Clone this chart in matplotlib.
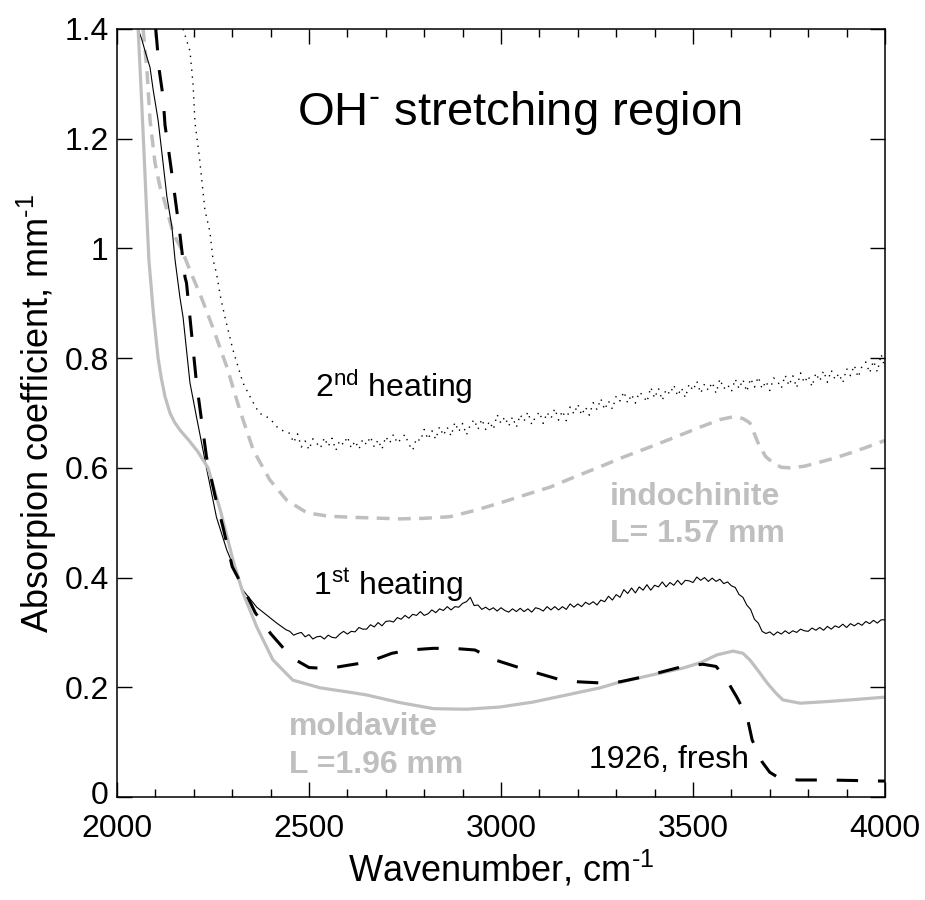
import matplotlib
matplotlib.use("Agg")
import matplotlib.pyplot as plt
from matplotlib.ticker import MultipleLocator
from matplotlib.transforms import ScaledTranslation

plt.rcParams['font.family'] = ['Liberation Sans', 'DejaVu Sans']
plt.rcParams['mathtext.fontset'] = 'custom'
plt.rcParams['mathtext.rm'] = 'Liberation Sans'
plt.rcParams['mathtext.it'] = 'Liberation Sans:italic'
plt.rcParams['mathtext.bf'] = 'Liberation Sans:bold'

GRAY = '#bfbfbf'

# moldavite, L = 1.96 mm (grey solid)
mold_wn = [2055, 2062, 2070, 2077, 2083, 2095, 2107, 2115, 2125, 2138, 2150, 2165, 2185, 2210, 2237,
           2270, 2302, 2328, 2364, 2406, 2458, 2529, 2615, 2650, 2737, 2825, 2910, 2997,
           3083, 3171, 3258, 3302, 3390, 3474, 3520, 3562, 3604, 3630, 3648, 3670, 3693,
           3715, 3734, 3779, 3850, 3909, 4000]
mold_ab = [1.40, 1.30, 1.18, 1.07, 0.98, 0.88, 0.80, 0.765, 0.73, 0.70, 0.683, 0.668, 0.652, 0.63, 0.60,
           0.52, 0.432, 0.372, 0.31, 0.25, 0.213, 0.199, 0.19, 0.186, 0.172, 0.161, 0.160, 0.164,
           0.173, 0.186, 0.199, 0.208, 0.222, 0.235, 0.245, 0.259, 0.266, 0.262, 0.250, 0.23, 0.208,
           0.19, 0.177, 0.171, 0.174, 0.177, 0.182]

# 1926, fresh (black dashed)
fresh_wn = [2101, 2110, 2120, 2125, 2138, 2151, 2164, 2177, 2181, 2207, 2233, 2255, 2276,
            2300, 2330, 2360, 2400, 2440, 2470, 2500, 2550, 2600, 2654, 2716, 2763, 2823,
            2875, 2932, 2984, 3042, 3094, 3148, 3200, 3258, 3310, 3370, 3419, 3479, 3526,
            3560, 3583, 3614, 3641, 3654, 3680, 3700, 3721, 3773, 3850, 4000]
fresh_ab = [1.40, 1.325, 1.276, 1.225, 1.161, 1.094, 1.025, 0.948, 0.937, 0.755, 0.62, 0.55, 0.492,
            0.42, 0.38, 0.336, 0.298, 0.266, 0.248, 0.236, 0.234, 0.24, 0.246, 0.262, 0.268, 0.271,
            0.271, 0.268, 0.25, 0.237, 0.226, 0.215, 0.21, 0.208, 0.21, 0.219, 0.228, 0.239, 0.242,
            0.238, 0.219, 0.182, 0.146, 0.104, 0.064, 0.045, 0.036, 0.031, 0.031, 0.029]

# indochinite, L = 1.57 mm (grey dashed)
indo_wn = [2068, 2078, 2086, 2099, 2112, 2125, 2146, 2169, 2190, 2220, 2250, 2286, 2320,
           2355, 2398, 2442, 2495, 2550, 2607, 2737, 2800, 2867, 2930, 2997, 3060, 3128,
           3190, 3258, 3320, 3388, 3450, 3518, 3570, 3604, 3630, 3648, 3674, 3690, 3709,
           3730, 3753, 3790, 3823, 3870, 3909, 3950, 4000]
indo_ab = [1.40, 1.325, 1.234, 1.156, 1.112, 1.083, 1.028, 0.997, 0.96, 0.91, 0.855, 0.784, 0.705,
           0.632, 0.578, 0.541, 0.518, 0.512, 0.51, 0.507, 0.508, 0.511, 0.522, 0.536, 0.55, 0.565,
           0.583, 0.602, 0.62, 0.638, 0.655, 0.674, 0.688, 0.693, 0.69, 0.682, 0.638, 0.62, 0.609,
           0.601, 0.60, 0.603, 0.609, 0.618, 0.627, 0.637, 0.65]

# shared sampling of the noisy spectra, 2450-4000 cm-1
grid_wn = [2450, 2460, 2470, 2480, 2490, 2500, 2510, 2520, 2530, 2540,
           2550, 2560, 2570, 2580, 2590, 2600, 2610, 2620, 2630, 2640,
           2650, 2660, 2670, 2680, 2690, 2700, 2710, 2720, 2730, 2740,
           2750, 2760, 2770, 2780, 2790, 2800, 2810, 2820, 2830, 2840,
           2850, 2860, 2870, 2880, 2890, 2900, 2910, 2920, 2930, 2940,
           2950, 2960, 2970, 2980, 2990, 3000, 3010, 3020, 3030, 3040,
           3050, 3060, 3070, 3080, 3090, 3100, 3110, 3120, 3130, 3140,
           3150, 3160, 3170, 3180, 3190, 3200, 3210, 3220, 3230, 3240,
           3250, 3260, 3270, 3280, 3290, 3300, 3310, 3320, 3330, 3340,
           3350, 3360, 3370, 3380, 3390, 3400, 3410, 3420, 3430, 3440,
           3450, 3460, 3470, 3480, 3490, 3500, 3510, 3520, 3530, 3540,
           3550, 3560, 3570, 3580, 3590, 3600, 3610, 3620, 3630, 3640,
           3650, 3660, 3670, 3680, 3690, 3700, 3710, 3720, 3730, 3740,
           3750, 3760, 3770, 3780, 3790, 3800, 3810, 3820, 3830, 3840,
           3850, 3860, 3870, 3880, 3890, 3900, 3910, 3920, 3930, 3940,
           3950, 3960, 3970, 3980, 3990, 4000]

# 1st heating (thin black, noisy)
heat1_edge_wn = [2055, 2065, 2073, 2086, 2094, 2107, 2117, 2130, 2143, 2151, 2164, 2172, 2190,
                 2207, 2233, 2259, 2286, 2310, 2328, 2364, 2416, 2440]
heat1_edge_ab = [1.40, 1.38, 1.36, 1.33, 1.29, 1.234, 1.174, 1.094, 1.039, 0.98, 0.91, 0.875, 0.755,
                 0.693, 0.60, 0.51, 0.45, 0.41, 0.377, 0.346, 0.317, 0.305]
heat1_grid_ab = [.302, .295, .298, .300, .292, .296, .288, .292, .293, .288,
                 .295, .291, .290, .297, .302, .297, .302, .301, .309, .306,
                 .306, .314, .310, .318, .312, .320, .321, .319, .327, .324,
                 .331, .326, .333, .331, .338, .331, .334, .341, .336, .343,
                 .340, .347, .341, .347, .346, .353, .356, .364, .349, .350,
                 .342, .346, .341, .345, .339, .345, .340, .337, .343, .338,
                 .344, .338, .343, .337, .345, .343, .339, .347, .341, .347,
                 .341, .347, .342, .352, .346, .352, .347, .355, .351, .356,
                 .350, .359, .356, .366, .359, .369, .364, .378, .371, .381,
                 .372, .383, .377, .387, .377, .386, .383, .392, .383, .391,
                 .386, .395, .387, .395, .394, .391, .401, .395, .400, .393,
                 .399, .393, .397, .389, .392, .385, .382, .369, .364, .350,
                 .342, .324, .317, .302, .298, .301, .295, .301, .297, .303,
                 .298, .303, .300, .306, .303, .302, .308, .304, .309, .304,
                 .311, .306, .312, .309, .315, .309, .316, .312, .317, .313,
                 .320, .316, .322, .317, .323, .323]

# 2nd heating (black dotted, noisy)
heat2_edge_wn = [2172, 2190, 2198, 2203, 2214, 2220, 2229, 2242, 2250, 2259, 2270, 2281, 2302,
                 2328, 2350, 2370, 2398, 2420, 2440]
heat2_edge_ab = [1.40, 1.36, 1.30, 1.23, 1.17, 1.13, 1.07, 1.03, 0.98, 0.955, 0.91, 0.875, 0.815,
                 0.755, 0.725, 0.70, 0.69, 0.672, 0.665]
heat2_grid_ab = [.663, .646, .662, .638, .649, .633, .653, .645, .636, .655,
                 .639, .654, .632, .650, .642, .657, .636, .649, .634, .652,
                 .642, .657, .638, .651, .634, .657, .645, .661, .645, .653,
                 .661, .643, .632, .654, .649, .670, .652, .668, .652, .675,
                 .659, .674, .658, .683, .666, .681, .660, .678, .688, .670,
                 .689, .670, .685, .670, .697, .681, .693, .676, .693, .674,
                 .697, .685, .702, .679, .693, .702, .681, .701, .690, .708,
                 .687, .704, .686, .711, .698, .716, .696, .711, .696, .719,
                 .706, .726, .706, .722, .707, .731, .722, .739, .718, .734,
                 .718, .738, .732, .720, .747, .727, .745, .723, .743, .734,
                 .751, .731, .746, .728, .753, .741, .758, .736, .753, .741,
                 .756, .736, .762, .744, .752, .739, .762, .744, .761, .739,
                 .763, .747, .766, .744, .758, .741, .764, .758, .745, .769,
                 .750, .768, .746, .773, .755, .768, .748, .773, .758, .777,
                 .756, .778, .761, .772, .755, .781, .768, .787, .765, .785,
                 .793, .773, .795, .775, .807, .782]

fig = plt.figure(figsize=(9.25, 9), dpi=100)
ax = fig.add_axes([117 / 925, 103 / 900, 768 / 925, 768 / 900])

ax.plot(heat2_edge_wn + grid_wn, heat2_edge_ab + heat2_grid_ab,
        color='black', lw=1.0, linestyle=(0, (1.0, 4.0)))
ax.plot(indo_wn, indo_ab, color=GRAY, lw=2.5, dashes=(3.7, 2.4))
ax.plot(heat1_edge_wn + grid_wn, heat1_edge_ab + heat1_grid_ab, color='black', lw=0.8)
ax.plot(mold_wn, mold_ab, color=GRAY, lw=2.3)
ax.plot(fresh_wn, fresh_ab, color='black', lw=2.2, dashes=(7, 6.5))

ax.set_xlim(2000, 4000)
ax.set_ylim(0, 1.4)
ax.xaxis.set_major_locator(MultipleLocator(500))
ax.xaxis.set_minor_locator(MultipleLocator(100))
ax.set_yticks([0, 0.2, 0.4, 0.6, 0.8, 1.0, 1.2, 1.4])
ax.set_yticklabels(['0', '0.2', '0.4', '0.6', '0.8', '1', '1.2', '1.4'])
ax.tick_params(which='both', direction='in', top=True, right=True, width=1.0, labelsize=23)
ax.tick_params(which='major', length=11)
ax.tick_params(which='minor', length=5.5)
ax.tick_params(axis='x', pad=12)
ax.tick_params(axis='y', pad=6)
for s in ax.spines.values():
    s.set_linewidth(1.1)

# lift the "0" label a touch so it clears the "2000" label
zero_lbl = ax.yaxis.get_major_ticks()[0].label1
zero_lbl.set_transform(zero_lbl.get_transform() + ScaledTranslation(0, 0.04, fig.dpi_scale_trans))

ax.set_xlabel('Wavenumber, cm$^{\\mathrm{\u2010}1}$', fontsize=26, labelpad=4)
ax.set_ylabel('Absorpion coefficient, mm$^{\\mathrm{\u2010}1}$', fontsize=26, labelpad=4)

ax.text(2468, 1.225, 'OH$^{\\mathrm{\u2010}}$ stretching region', fontsize=34)
ax.text(2515, 0.73, r'2$^{\mathrm{nd}}$ heating', fontsize=23)
ax.text(2510, 0.368, r'1$^{\mathrm{st}}$ heating', fontsize=23)
ax.text(3283, 0.533, 'indochinite', fontsize=23, fontweight='bold', color=GRAY)
ax.text(3283, 0.465, 'L= 1.57 mm', fontsize=23, fontweight='bold', color=GRAY)
ax.text(2448, 0.113, 'moldavite', fontsize=23, fontweight='bold', color=GRAY)
ax.text(2448, 0.044, 'L =1.96 mm', fontsize=23, fontweight='bold', color=GRAY)
ax.text(3229, 0.052, '1926, fresh', fontsize=23)

fig.savefig('out.png', dpi=100)
